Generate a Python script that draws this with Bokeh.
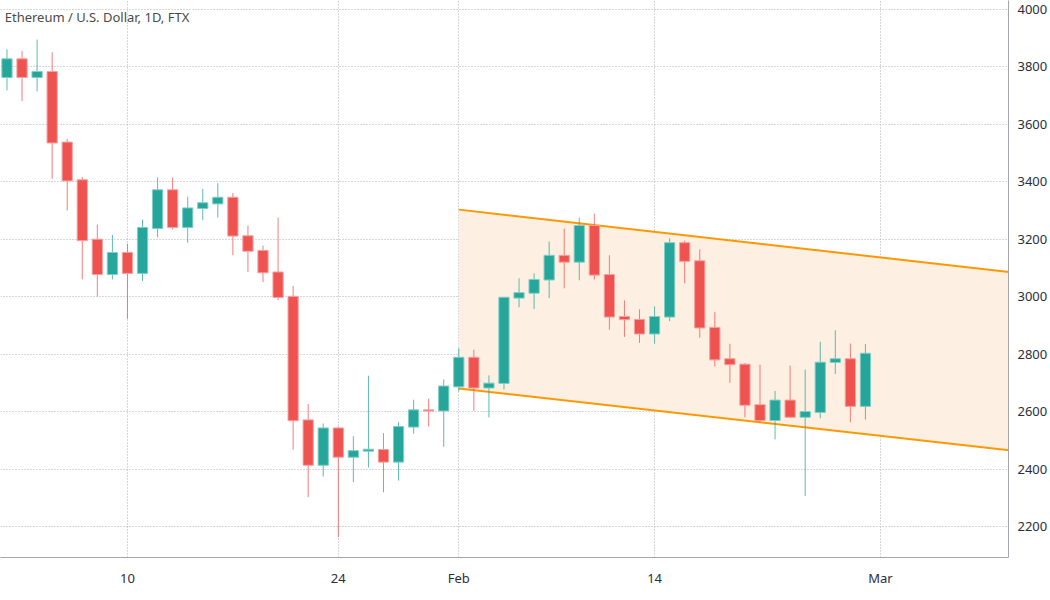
import pandas as pd
from bokeh.plotting import figure
from bokeh.models import Range1d, FixedTicker, Label, ColumnDataSource
from bokeh.embed import file_html
from bokeh.resources import INLINE

# ---- data (ETH/USD daily) ----
dates = pd.date_range("2022-01-02", "2022-02-28", freq="D").strftime("%Y-%m-%d").tolist()
opens = [3763, 3828, 3763, 3784, 3538, 3407, 3200, 3077, 3154, 3081,
         3237, 3372, 3241, 3307, 3323, 3346, 3212, 3161, 3086, 3001,
         2571, 2413, 2543, 2441, 2462, 2468, 2424, 2546, 2606, 2602,
         2686, 2789, 2682, 2698, 2995, 3012, 3058, 3144, 3120, 3248,
         3077, 2931, 2921, 2870, 2929, 3188, 3125, 2893, 2784, 2765,
         2624, 2569, 2640, 2580, 2597, 2771, 2784, 2618]
highs = [3861, 3855, 3895, 3851, 3549, 3417, 3251, 3215, 3184, 3268,
         3415, 3415, 3348, 3375, 3395, 3361, 3247, 3178, 3275, 3037,
         2626, 2559, 2548, 2514, 2725, 2525, 2563, 2641, 2645, 2712,
         2820, 2815, 2726, 2998, 3064, 3081, 3192, 3237, 3275, 3289,
         3144, 2987, 2956, 2966, 3203, 3195, 3165, 2946, 2836, 2769,
         2763, 2672, 2760, 2746, 2843, 2883, 2837, 2835]
lows = [3718, 3681, 3715, 3410, 3300, 3060, 3001, 3060, 2923, 3055,
        3207, 3234, 3188, 3266, 3275, 3144, 3086, 3051, 2988, 2468,
        2302, 2374, 2163, 2354, 2405, 2319, 2360, 2523, 2548, 2477,
        2670, 2603, 2580, 2677, 2963, 2957, 2995, 3029, 3057, 3060,
        2885, 2860, 2839, 2836, 2915, 3046, 2857, 2757, 2700, 2580,
        2563, 2503, 2580, 2306, 2577, 2731, 2563, 2572]
closes = [3828, 3763, 3784, 3535, 3403, 3195, 3077, 3154, 3081, 3241,
          3372, 3241, 3309, 3327, 3346, 3211, 3158, 3083, 2997, 2568,
          2413, 2543, 2441, 2464, 2469, 2424, 2548, 2606, 2602, 2689,
          2789, 2682, 2699, 2998, 3014, 3060, 3144, 3120, 3248, 3075,
          2929, 2920, 2870, 2931, 3188, 3123, 2891, 2780, 2763, 2622,
          2569, 2640, 2580, 2600, 2772, 2784, 2618, 2803]

channel_dates = ["2022-02-01", "2022-03-10"]
channel_upper = [3303, 3083]
channel_lower = [2680, 2463]

tick_dates = ["2022-01-10", "2022-01-24", "2022-02-01", "2022-02-14", "2022-03-01"]
tick_labels = ["10", "24", "Feb", "14", "Mar"]
price_ticks = [2200, 2400, 2600, 2800, 3000, 3200, 3400, 3600, 3800, 4000]

title_text = "Ethereum / U.S. Dollar, 1D, FTX"

# ---- helpers ----
origin = pd.Timestamp("2022-01-01")
def day_index(ds):
    return [(pd.Timestamp(d) - origin).days for d in ds]

GREEN = "#26a69a"
RED = "#ef5350"
GREEN_EDGE = "#7fcfc6"
RED_EDGE = "#f6a1a0"

x = day_index(dates)
up = [c >= o for o, c in zip(opens, closes)]
src = ColumnDataSource(dict(
    x=x,
    top=[max(o, c) for o, c in zip(opens, closes)],
    bottom=[min(o, c) for o, c in zip(opens, closes)],
    high=highs, low=lows,
    color=[GREEN if u else RED for u in up],
    edge=[GREEN_EDGE if u else RED_EDGE for u in up],
))

p = figure(width=1050, height=600, output_backend="svg", toolbar_location=None,
           x_range=Range1d(0.57, 67.5), y_range=Range1d(2092, 4031),
           y_axis_location="right", min_border_left=0, min_border_top=0,
           min_border_right=0, min_border_bottom=43)
p.background_fill_color = "white"
p.border_fill_color = "white"
p.outline_line_color = None

# channel
cx = day_index(channel_dates)
p.patch(cx + cx[::-1], channel_upper + channel_lower[::-1],
        fill_color="#fdf0e2", line_color=None)
p.line(cx, channel_upper, line_color="#ff9800", line_width=2)
p.line(cx, channel_lower, line_color="#ff9800", line_width=2)

# candles
p.segment(x0="x", y0="high", x1="x", y1="low", source=src, line_color="color",
          line_alpha=0.75, line_width=1)
p.vbar(x="x", top="top", bottom="bottom", width=0.68, source=src,
       fill_color="color", line_color="edge", line_width=1)

# title
p.add_layout(Label(x=0.85, y=3975, text=title_text, text_font="Noto Sans",
                   text_font_size="13px", text_color="#4a4a4a",
                   text_baseline="middle"))

# axes & grid
p.xaxis.ticker = FixedTicker(ticks=day_index(tick_dates))
p.xaxis.major_label_overrides = {t: l for t, l in zip(day_index(tick_dates), tick_labels)}
p.yaxis.ticker = FixedTicker(ticks=price_ticks)
for ax in (p.xaxis[0], p.yaxis[0]):
    ax.axis_line_color = "#a3a6af"
    ax.axis_line_width = 1
    ax.major_tick_line_color = None
    ax.minor_tick_line_color = None
    ax.major_tick_out = 0
    ax.major_tick_in = 0
    ax.minor_tick_out = 0
    ax.minor_tick_in = 0
    ax.major_label_text_font = "Noto Sans"
    ax.major_label_text_font_size = "13px"
    ax.major_label_text_color = "#2a2e39"
p.xaxis.major_label_standoff = 11
p.yaxis.major_label_standoff = 9

for g in (p.xgrid[0], p.ygrid[0]):
    g.grid_line_color = "#aeb1b8"
    g.grid_line_dash = "1 2"
    g.grid_line_width = 1
p.xgrid.ticker = FixedTicker(ticks=day_index(tick_dates))
p.ygrid.ticker = FixedTicker(ticks=price_ticks)

open("out.html", "w").write(file_html(p, INLINE))
